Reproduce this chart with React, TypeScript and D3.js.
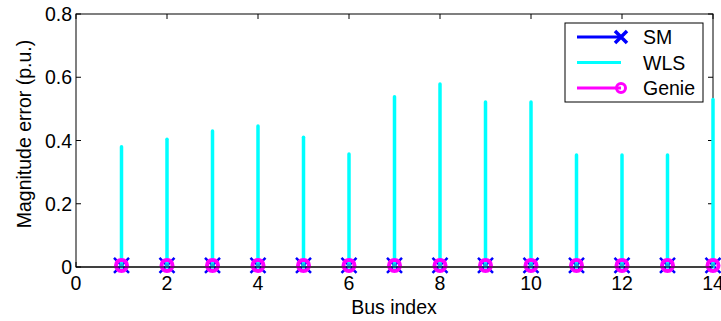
import React, { useEffect, useRef } from 'react';
import * as d3 from 'd3';

const buses = [1, 2, 3, 4, 5, 6, 7, 8, 9, 10, 11, 12, 13, 14];
const wlsErr = [0.38, 0.404, 0.43, 0.446, 0.41, 0.357, 0.538, 0.579, 0.522, 0.522, 0.354, 0.354, 0.354, 0.53];
const smErr = [0.005, 0.005, 0.005, 0.005, 0.005, 0.005, 0.005, 0.005, 0.005, 0.005, 0.005, 0.005, 0.005, 0.005];
const genieErr = [0.005, 0.005, 0.005, 0.005, 0.005, 0.005, 0.005, 0.005, 0.005, 0.005, 0.005, 0.005, 0.005, 0.005];
const xTicks = [0, 2, 4, 6, 8, 10, 12, 14];
const yTicks = [0, 0.2, 0.4, 0.6, 0.8];

const App = () => {
  const ref = useRef<SVGSVGElement>(null);

  useEffect(() => {
    const svg = d3.select(ref.current);
    svg.selectAll('*').remove();

    const margin = { top: 14, left: 76 };
    const width = 637;
    const height = 253;
    const font = 'Liberation Sans, Arial, sans-serif';
    const fs = 19.5;

    const x = d3.scaleLinear().domain([0, 14]).range([0, width]);
    const y = d3.scaleLinear().domain([0, 0.8]).range([height, 0]);

    const g = svg.append('g').attr('transform', `translate(${margin.left},${margin.top})`);

    // box
    g.append('rect')
      .attr('width', width).attr('height', height)
      .attr('fill', 'none').attr('stroke', '#000').attr('stroke-width', 1);

    // inward ticks on all sides
    const tl = 5;
    xTicks.forEach(t => {
      g.append('line').attr('x1', x(t)).attr('x2', x(t)).attr('y1', height).attr('y2', height - tl).attr('stroke', '#000');
      g.append('line').attr('x1', x(t)).attr('x2', x(t)).attr('y1', 0).attr('y2', tl).attr('stroke', '#000');
      g.append('text')
        .attr('x', x(t)).attr('y', height + 23)
        .attr('text-anchor', 'middle')
        .attr('font-family', font).attr('font-size', fs)
        .text(t);
    });
    yTicks.forEach(t => {
      g.append('line').attr('x1', 0).attr('x2', tl).attr('y1', y(t)).attr('y2', y(t)).attr('stroke', '#000');
      g.append('line').attr('x1', width).attr('x2', width - tl).attr('y1', y(t)).attr('y2', y(t)).attr('stroke', '#000');
      g.append('text')
        .attr('x', -4).attr('y', y(t) + 7)
        .attr('text-anchor', 'end')
        .attr('font-family', font).attr('font-size', fs)
        .text(t === 0 ? '0' : t.toFixed(1));
    });

    // SM stems + x markers
    buses.forEach((b, i) => {
      g.append('line').attr('x1', x(b)).attr('x2', x(b)).attr('y1', y(0)).attr('y2', y(smErr[i]))
        .attr('stroke', 'blue').attr('stroke-width', 3);
      const s = 7.5;
      g.append('path')
        .attr('d', `M${x(b) - s},${y(smErr[i]) - s}L${x(b) + s},${y(smErr[i]) + s}M${x(b) - s},${y(smErr[i]) + s}L${x(b) + s},${y(smErr[i]) - s}`)
        .attr('stroke', 'blue').attr('stroke-width', 2.5).attr('fill', 'none');
    });

    // WLS stems
    buses.forEach((b, i) => {
      g.append('line').attr('x1', x(b)).attr('x2', x(b)).attr('y1', y(0)).attr('y2', y(wlsErr[i]))
        .attr('stroke', 'cyan').attr('stroke-width', 3.5).attr('stroke-linecap', 'round');
    });

    // Genie stems + circles
    buses.forEach((b, i) => {
      g.append('line').attr('x1', x(b)).attr('x2', x(b)).attr('y1', y(0)).attr('y2', y(genieErr[i]))
        .attr('stroke', 'magenta').attr('stroke-width', 3);
      g.append('circle').attr('cx', x(b)).attr('cy', y(genieErr[i])).attr('r', 5.5)
        .attr('fill', 'none').attr('stroke', 'magenta').attr('stroke-width', 4);
      g.append('circle').attr('cx', x(b)).attr('cy', y(genieErr[i])).attr('r', 2.2)
        .attr('fill', '#1ab0e0');
    });

    // baseline
    g.append('line').attr('x1', 0).attr('x2', width).attr('y1', y(0)).attr('y2', y(0)).attr('stroke', '#000');

    // axis labels
    svg.append('text')
      .attr('x', 394).attr('y', 314)
      .attr('text-anchor', 'middle')
      .attr('font-family', font).attr('font-size', fs)
      .text('Bus index');
    svg.append('text')
      .attr('transform', 'translate(31,134) rotate(-90)')
      .attr('text-anchor', 'middle')
      .attr('font-family', font).attr('font-size', fs)
      .text('Magnitude error (p.u.)');

    // legend
    const lg = svg.append('g').attr('transform', 'translate(565,23)');
    lg.append('rect').attr('width', 138).attr('height', 79)
      .attr('fill', '#fff').attr('stroke', '#000').attr('stroke-width', 1);
    const items = [
      { label: 'SM', color: 'blue', marker: 'x' },
      { label: 'WLS', color: 'cyan', marker: '' },
      { label: 'Genie', color: 'magenta', marker: 'o' },
    ];
    items.forEach((it, i) => {
      const yy = 14 + i * 25.5;
      lg.append('line').attr('x1', 12).attr('x2', 56).attr('y1', yy).attr('y2', yy)
        .attr('stroke', it.color).attr('stroke-width', 3);
      if (it.marker === 'x') {
        const s = 6;
        lg.append('path')
          .attr('d', `M${56 - s},${yy - s}L${56 + s},${yy + s}M${56 - s},${yy + s}L${56 + s},${yy - s}`)
          .attr('stroke', it.color).attr('stroke-width', 3.5);
      } else if (it.marker === 'o') {
        lg.append('circle').attr('cx', 56).attr('cy', yy).attr('r', 4.5)
          .attr('fill', 'none').attr('stroke', it.color).attr('stroke-width', 3);
      }
      lg.append('text')
        .attr('x', 78).attr('y', yy + 7)
        .attr('font-family', font).attr('font-size', fs)
        .text(it.label);
    });
  }, []);

  return (
    <svg ref={ref} width={721} height={321}
      style={{ position: 'absolute', left: 0, top: 0, display: 'block', background: '#fff' }} />
  );
};

export default App;
